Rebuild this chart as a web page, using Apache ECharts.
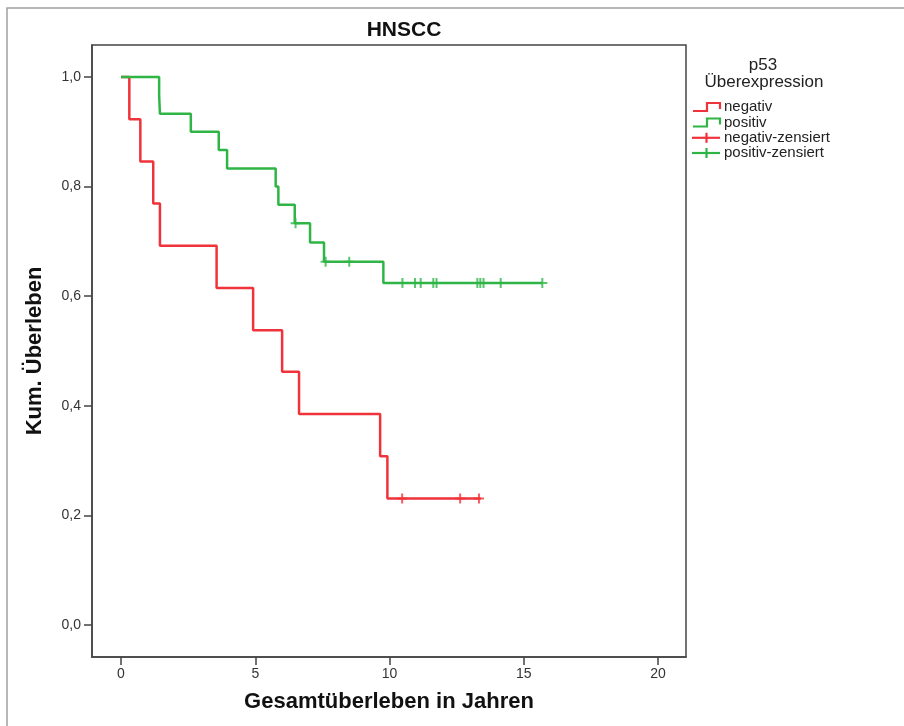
<!DOCTYPE html>
<html><head><meta charset="utf-8">
<script src="https://cdn.jsdelivr.net/npm/echarts@6/dist/echarts.min.js"></script>
<style>html,body{margin:0;padding:0;background:#fff}#c{width:904px;height:726px}</style>
</head><body><div id="c"></div>
<script>
// ---- data ----
const xTicks = [0, 5, 10, 15, 20];
const yTicks = [0, 0.2, 0.4, 0.6, 0.8, 1.0];
const groupNames = ['negativ', 'positiv', 'negativ-zensiert', 'positiv-zensiert'];
const negTimes = [0, 0.31, 0.72, 1.2, 1.45, 3.56, 4.92, 6.0, 6.63, 9.65, 9.92, 13.4];
const negSurv  = [1, 0.923, 0.846, 0.769, 0.692, 0.615, 0.538, 0.462, 0.385, 0.308, 0.231, 0.231];
const negCensTimes = [10.47, 12.63, 13.33];
const negCensSurv  = [0.231, 0.231, 0.231];
const posTimes = [0, 1.42, 1.45, 2.6, 3.64, 3.95, 5.76, 5.86, 6.47, 7.04, 7.56, 9.77, 15.69];
const posSurv  = [1, 0.967, 0.933, 0.9, 0.867, 0.833, 0.8, 0.767, 0.733, 0.698, 0.663, 0.624, 0.624];
const posCensTimes = [6.5, 7.62, 8.5, 10.48, 10.95, 11.16, 11.63, 11.75, 13.27, 13.38, 13.5, 14.14, 15.69];
const posCensSurv  = [0.733, 0.663, 0.663, 0.624, 0.624, 0.624, 0.624, 0.624, 0.624, 0.624, 0.624, 0.624, 0.624];

const RED = '#f0333a', GREEN = '#2fb546';
const FONT = '"Liberation Sans", Arial, Helvetica, sans-serif';
const PLUS = 'path://M4,0h2v4h4v2h-4v4h-2v-4h-4v-2h4z';
const zip = (a, b) => a.map((v, i) => [v, b[i]]);
const fmt = v => (Math.round(v * 10) / 10).toFixed(1).replace('.', ',');

const chart = echarts.init(document.getElementById('c'), null, {renderer: 'canvas'});

// legend drawn as graphics
const legY = [107, 122.5, 137.8, 153];
const legColors = [RED, GREEN, RED, GREEN];
const legendGraphics = [];
groupNames.forEach((n, i) => {
  const y = legY[i];
  if (i < 2) {
    legendGraphics.push({type: 'polyline', shape: {points: [[693, y + 4], [707, y + 4], [707, y - 4], [720, y - 4], [720, y + 2]]},
      style: {stroke: legColors[i], lineWidth: 2.2, fill: null}});
  } else {
    legendGraphics.push({type: 'line', shape: {x1: 692, y1: y, x2: 720, y2: y}, style: {stroke: legColors[i], lineWidth: 2.2}});
    legendGraphics.push({type: 'line', shape: {x1: 706.5, y1: y - 5, x2: 706.5, y2: y + 5}, style: {stroke: legColors[i], lineWidth: 2.2}});
  }
  legendGraphics.push({type: 'text', x: 724, y: y, style: {text: n, fill: '#222', font: '15px ' + FONT, textVerticalAlign: 'middle', textAlign: 'left'}});
});

chart.setOption({
  animation: false,
  backgroundColor: '#fff',
  grid: {left: 92, right: 218, top: 45, bottom: 69, show: true, borderColor: '#444', borderWidth: 1.5, backgroundColor: '#fff'},
  xAxis: {
    type: 'value', min: -1.08, max: 21.04,
    name: 'Gesamtüberleben in Jahren', nameLocation: 'middle', nameGap: 34,
    nameTextStyle: {fontSize: 22, fontWeight: 'bold', color: '#111', fontFamily: FONT},
    axisLine: {show: true, onZero: false, lineStyle: {color: '#444', width: 1.5}},
    axisTick: {show: true, length: 8, customValues: xTicks, lineStyle: {color: '#444', width: 1.5}},
    axisLabel: {customValues: xTicks, margin: 10, fontSize: 14, color: '#333', fontFamily: FONT},
    splitLine: {show: false}
  },
  yAxis: {
    type: 'value', min: -0.0584, max: 1.0584,
    name: 'Kum. Überleben', nameLocation: 'middle', nameGap: 46,
    nameTextStyle: {fontSize: 22, fontWeight: 'bold', color: '#111', fontFamily: FONT},
    axisLine: {show: true, onZero: false, lineStyle: {color: '#444', width: 1.5}},
    axisTick: {show: true, length: 8, customValues: yTicks, lineStyle: {color: '#444', width: 1.5}},
    axisLabel: {customValues: yTicks, margin: 11, fontSize: 14, color: '#333', fontFamily: FONT, formatter: fmt},
    splitLine: {show: false}
  },
  graphic: [
    {type: 'rect', shape: {x: 7, y: 8, width: 2000, height: 2000}, style: {stroke: '#a0a0a0', lineWidth: 1.5, fill: null}, z: -10},
    {type: 'text', x: 404, y: 30, style: {text: 'HNSCC', font: 'bold 21px ' + FONT, fill: '#111', textAlign: 'center', textVerticalAlign: 'middle'}},
    {type: 'text', x: 763, y: 65, style: {text: 'p53', font: '17px ' + FONT, fill: '#222', textAlign: 'center', textVerticalAlign: 'middle'}},
    {type: 'text', x: 764, y: 82, style: {text: 'Überexpression', font: '17px ' + FONT, fill: '#222', textAlign: 'center', textVerticalAlign: 'middle'}},
    ...legendGraphics
  ],
  series: [
    {name: groupNames[0], type: 'line', step: 'end', showSymbol: false, symbol: 'none', data: zip(negTimes, negSurv),
      lineStyle: {color: RED, width: 2.5}, z: 2},
    {name: groupNames[1], type: 'line', step: 'end', showSymbol: false, symbol: 'none', data: zip(posTimes, posSurv),
      lineStyle: {color: GREEN, width: 2.5}, z: 3},
    {name: groupNames[2], type: 'scatter', symbol: PLUS, symbolSize: 10, data: zip(negCensTimes, negCensSurv),
      itemStyle: {color: RED}, z: 4},
    {name: groupNames[3], type: 'scatter', symbol: PLUS, symbolSize: 10, data: zip(posCensTimes, posCensSurv),
      itemStyle: {color: GREEN}, z: 5}
  ]
});
</script></body></html>
